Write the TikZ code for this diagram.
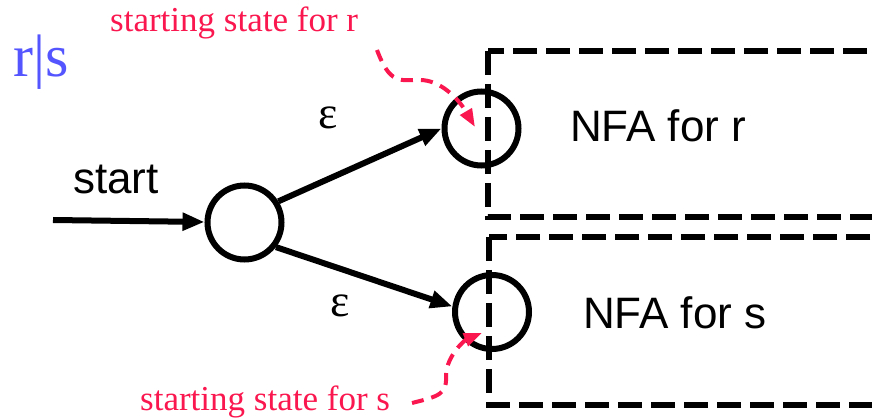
\documentclass[tikz,border=0pt]{standalone}
\usepackage{fontspec}
\setmainfont{Liberation Serif}
\newfontfamily\nfasans{Liberation Sans}
\usetikzlibrary{arrows.meta}
\definecolor{hintred}{RGB}{250,22,78}
\definecolor{reblue}{RGB}{85,85,255}

\begin{document}
\begin{tikzpicture}[x=1pt,y=-1pt,
 state/.style={draw, circle, line width=6pt, minimum size=74pt, inner sep=0pt},
 nfabox/.style={line width=5.5pt, dash pattern=on 24pt off 9pt},
 trans/.style={line width=6pt, -{Triangle[length=22pt,width=17pt]}},
 hint/.style={hintred, line width=4pt, dash pattern=on 12pt off 8pt, -{Triangle[length=18pt,width=13pt]}},
 sanslabel/.style={font=\nfasans\fontsize{44}{48}\selectfont, inner sep=0pt},
 hintlabel/.style={hintred, font=\fontsize{35}{40}\selectfont, inner sep=0pt}]
 \useasboundingbox (0,0) rectangle (872,419);
 % the two sub-automata
 \draw[nfabox] (488,51) rectangle (874.5,217);
 \draw[nfabox] (489,237) rectangle (874.5,405);
 \node[sanslabel, anchor=base west] (nfar) at (570,142) {NFA for r};
 \node[sanslabel, anchor=base west] (nfas) at (583,328) {NFA for s};
 % states
 \node[state] (q0) at (244.5,222.5) {};
 \node[state] (qr) at (481.5,128.5) {};
 \node[state] (qs) at (492,312) {};
 % transitions
 \coordinate (in) at (53,220);
 \draw[trans] (in) -- (q0);
 \node[sanslabel, anchor=base west] (start) at (73,194) {start};
 \draw[trans] (q0.32) -- (qr.west);
 \draw[trans] (q0.-38) -- (qs.172);
 \node[font=\fontsize{46}{50}\selectfont, inner sep=0pt] (epsr) at (328,118) {ε};
 \node[font=\fontsize{46}{50}\selectfont, inner sep=0pt] (epss) at (340,306) {ε};
 % title and hints
 \node[reblue, font=\fontsize{60}{66}\selectfont, inner sep=0pt, anchor=base west] (title) at (13,77) {r|s};
 \node[hintlabel, anchor=base west] (hr) at (110,32) {starting state for r};
 \node[hintlabel, anchor=base west] (hs) at (140,410) {starting state for s};
 \coordinate (hrfrom) at (377,50);
 \coordinate (hrto) at (475,127);
 \coordinate (hsfrom) at (412,403);
 \coordinate (hsto) at (482,333);
 \draw[hint] (hrfrom) .. controls (390,85) and (400,80) .. (420,80)
   .. controls (440,80) and (458,98) .. (hrto);
 \draw[hint] (hsfrom) .. controls (440,396) and (447,394) .. (446,375)
   .. controls (447,355) and (465,340) .. (hsto);
\end{tikzpicture}
\end{document}
